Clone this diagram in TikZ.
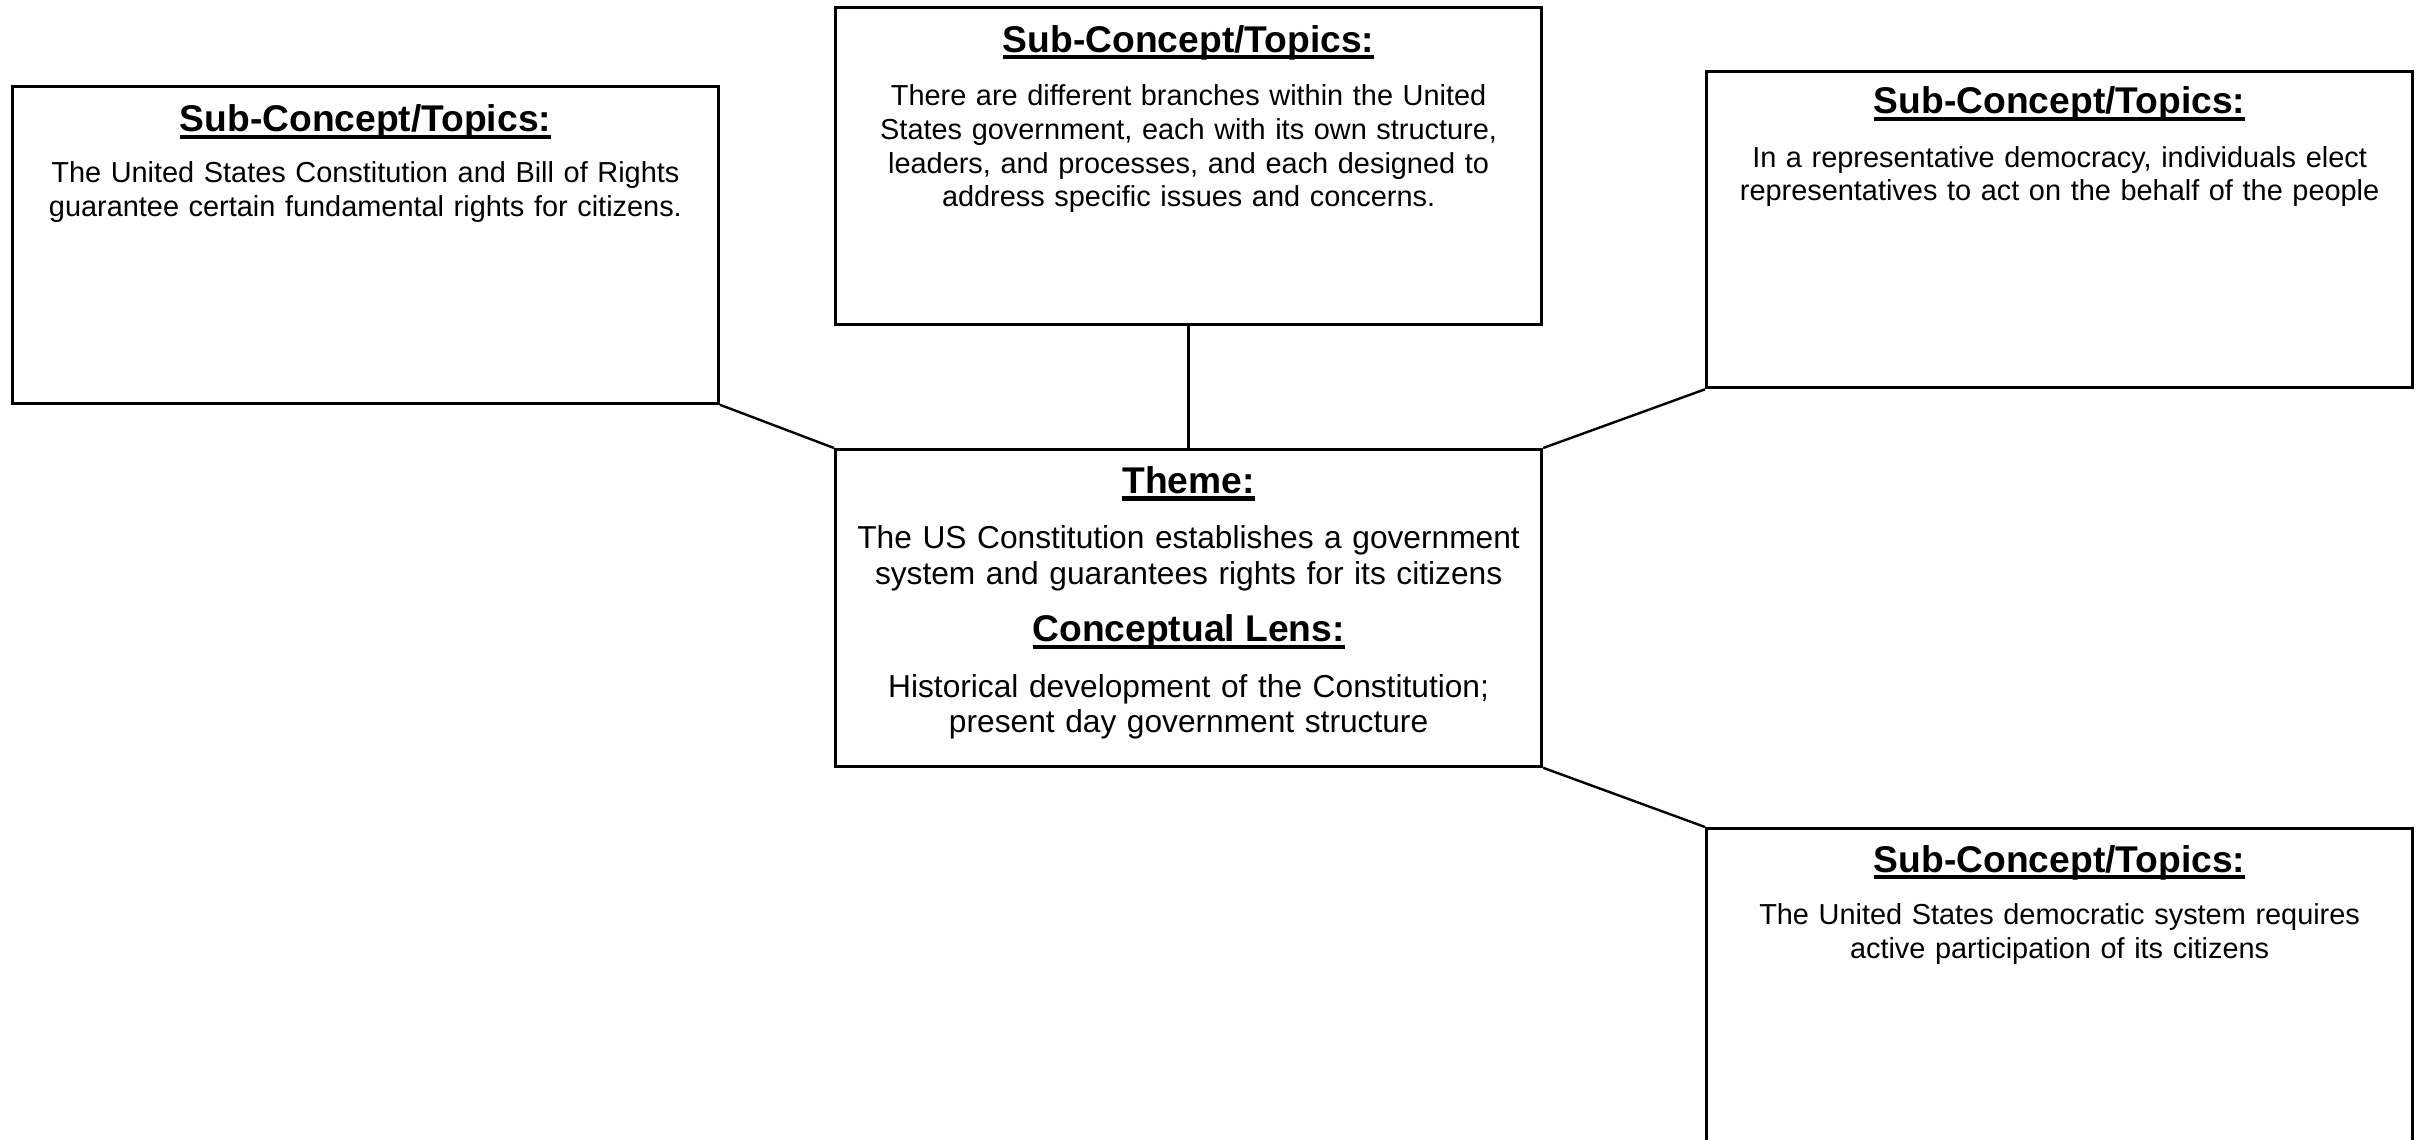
\documentclass[tikz,border=0pt]{standalone}
\usepackage{fontspec}
\setmainfont{Liberation Sans}
\newsavebox\ttlbox
\newcommand\ulttl[1]{\sbox\ttlbox{#1}\rlap{\rule[-3.6pt]{\wd\ttlbox}{2.1pt}}\usebox\ttlbox}
\tikzset{
  boxnode/.style={draw, line width=1.6pt, inner sep=0pt, minimum width=353pt, minimum height=158.3pt, anchor=north west},
  ttl/.style={anchor=base, inner sep=0pt, font=\bfseries\fontsize{18.6}{22}\selectfont},
  bodytxt/.style={anchor=base, inner sep=0pt, text width=345pt, align=center, font=\fontsize{14.45}{16.9}\selectfont},
  cbodytxt/.style={anchor=base, inner sep=0pt, text width=345pt, align=center, font=\fontsize{15.85}{17.6}\selectfont},
  link/.style={line width=1.2pt}
}
\begin{document}
\begin{tikzpicture}[x=0.5pt,y=-0.5pt]
\useasboundingbox (0,0) rectangle (2422,1140);
\clip (0,0) rectangle (2422,1140);
% boxes
\node (L) [boxnode] at (10.8,85) {};
\node (T) [boxnode] at (834,6.2) {};
\node (R) [boxnode] at (1705,69.5) {};
\node (C) [boxnode] at (834,448) {};
\node (B) [boxnode] at (1705,827) {};
% left box
\node (Lt) [ttl] at ([yshift=-23.4pt]L.north) {\ulttl{Sub-Concept/Topics:}};
\node (Lb) [bodytxt] at ([yshift=-48.6pt]L.north) {The United States Constitution and Bill of Rights\\guarantee certain fundamental rights for citizens.};
% top box
\node (Tt) [ttl] at ([yshift=-22.9pt]T.north) {\ulttl{Sub-Concept/Topics:}};
\node (Tb) [bodytxt] at ([yshift=-49.6pt]T.north) {There are different branches within the United\\States government, each with its own structure,\\leaders, and processes, and each designed to\\address specific issues and concerns.};
% right box
\node (Rt) [ttl] at ([yshift=-22.0pt]R.north) {\ulttl{Sub-Concept/Topics:}};
\node (Rb) [bodytxt] at ([yshift=-48.8pt]R.north) {In a representative democracy, individuals elect\\representatives to act on the behalf of the people};
% center box
\node (Ct) [ttl] at ([yshift=-22.7pt]C.north) {\ulttl{Theme:}};
\node (Cb) [cbodytxt] at ([yshift=-50.4pt]C.north) {The US Constitution establishes a government\\system and guarantees rights for its citizens};
\node (Cl) [ttl] at ([yshift=-96.9pt]C.north) {\ulttl{Conceptual Lens:}};
\node (Cd) [cbodytxt] at ([yshift=-124.6pt]C.north) {Historical development of the Constitution;\\present day government structure};
% bottom box
\node (Bt) [ttl] at ([yshift=-22.5pt]B.north) {\ulttl{Sub-Concept/Topics:}};
\node (Bb) [bodytxt] at ([yshift=-48.6pt]B.north) {The United States democratic system requires\\active participation of its citizens};
% connectors
\draw[link] (L.south east) -- (C.north west);
\draw[link] (T.south) -- (C.north);
\draw[link] (R.south west) -- (C.north east);
\draw[link] (C.south east) -- (B.north west);
\end{tikzpicture}
\end{document}
